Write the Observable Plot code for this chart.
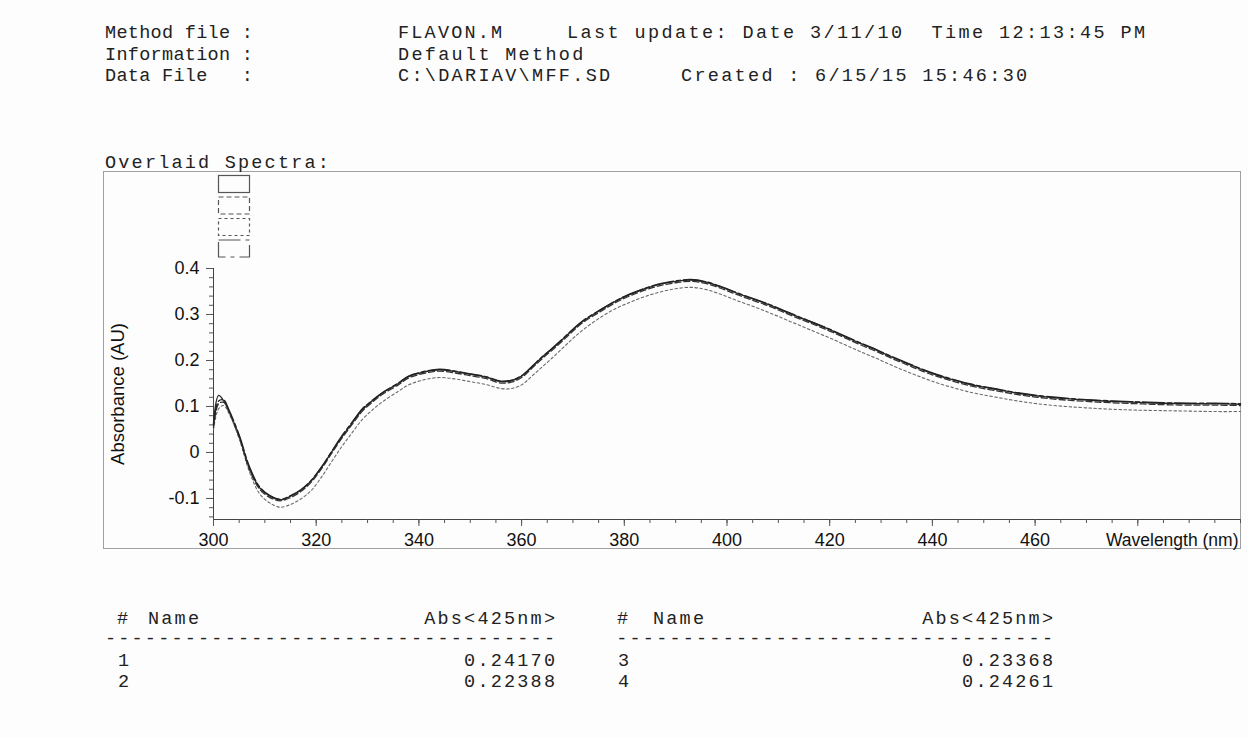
<!DOCTYPE html>
<html><head><meta charset="utf-8">
<script src="https://cdn.jsdelivr.net/npm/d3@7"></script>
<script src="https://cdn.jsdelivr.net/npm/@observablehq/plot@0.6"></script>
<style>
html,body{margin:0;padding:0;}
body{background:#fdfdfd;width:1248px;height:738px;position:relative;overflow:hidden;}
.t{position:absolute;font-family:"Liberation Mono","Courier New",monospace;font-size:18.5px;color:#222;white-space:pre;line-height:18px;}
#frame{position:absolute;left:103px;top:171px;width:1136px;height:376px;border:1.5px solid #a0a0a0;}
#chart{position:absolute;left:104px;top:172px;}
#legend{position:absolute;left:214px;top:173px;}
</style></head><body>
<div id="frame"></div>
<div id="chart"></div>
<svg id="legend" width="40" height="90"></svg>
<script>
// ---- header text ----
const methodFile = "FLAVON.M";
const lastUpdate = "Last update: Date 3/11/10  Time 12:13:45 PM";
const information = "Default Method";
const dataFile = "C:\\DARIAV\\MFF.SD";
const created = "Created : 6/15/15 15:46:30";

// ---- spectra data ----
const wavelength = [300,301,302,303,305,307,309,311,313,315,317,319,321,323,325,327,329,331,333,336,338,341,344,347,350,353,356,358,360,362,364,366,368,370,372,375,378,381,384,387,390,393,396,399,402,405,408,411,414,417,420,423,426,429,432,435,438,441,444,447,450,453,456,459,462,466,470,475,480,485,490,495,500];
const spectrum1 = [0.062,0.124,0.112,0.090,0.035,-0.034,-0.077,-0.095,-0.103,-0.095,-0.082,-0.062,-0.033,0.001,0.034,0.064,0.093,0.113,0.130,0.150,0.165,0.175,0.180,0.176,0.170,0.164,0.154,0.156,0.166,0.186,0.207,0.226,0.246,0.267,0.286,0.307,0.327,0.343,0.356,0.366,0.372,0.375,0.370,0.359,0.346,0.334,0.322,0.308,0.294,0.281,0.267,0.252,0.237,0.223,0.208,0.194,0.180,0.168,0.158,0.149,0.142,0.136,0.130,0.125,0.121,0.117,0.114,0.111,0.109,0.107,0.106,0.106,0.105];
const spectrum2 = [0.050,0.095,0.102,0.085,0.030,-0.042,-0.090,-0.110,-0.119,-0.113,-0.101,-0.083,-0.054,-0.020,0.013,0.043,0.072,0.093,0.111,0.133,0.147,0.158,0.163,0.160,0.154,0.148,0.139,0.139,0.147,0.166,0.186,0.206,0.227,0.248,0.267,0.291,0.311,0.326,0.339,0.349,0.356,0.359,0.354,0.343,0.330,0.318,0.305,0.291,0.277,0.263,0.249,0.234,0.219,0.205,0.190,0.176,0.163,0.151,0.141,0.132,0.125,0.119,0.113,0.108,0.104,0.100,0.097,0.094,0.092,0.091,0.090,0.089,0.089];
const spectrum3 = [0.054,0.106,0.109,0.089,0.033,-0.037,-0.080,-0.098,-0.105,-0.098,-0.085,-0.065,-0.036,-0.002,0.031,0.061,0.090,0.110,0.127,0.147,0.162,0.172,0.177,0.173,0.167,0.161,0.151,0.153,0.163,0.183,0.204,0.223,0.243,0.264,0.283,0.304,0.324,0.340,0.353,0.363,0.369,0.372,0.367,0.356,0.343,0.331,0.319,0.305,0.291,0.278,0.264,0.249,0.234,0.220,0.205,0.191,0.177,0.165,0.155,0.146,0.139,0.133,0.127,0.122,0.118,0.114,0.111,0.108,0.106,0.104,0.103,0.103,0.102];
const spectrum4 = [0.058,0.112,0.114,0.093,0.038,-0.031,-0.075,-0.094,-0.102,-0.094,-0.081,-0.061,-0.032,0.002,0.036,0.066,0.095,0.114,0.131,0.151,0.166,0.176,0.181,0.177,0.171,0.165,0.155,0.157,0.167,0.187,0.208,0.227,0.247,0.268,0.287,0.308,0.328,0.344,0.357,0.367,0.373,0.376,0.371,0.360,0.347,0.335,0.323,0.309,0.295,0.282,0.268,0.253,0.238,0.224,0.209,0.195,0.181,0.169,0.159,0.150,0.143,0.137,0.131,0.126,0.122,0.118,0.115,0.112,0.110,0.108,0.107,0.107,0.106];
const seriesNames = ["1","2","3","4"];

// ---- axis ticks ----
const xMajorTicks = [300,320,340,360,380,400,420,440,460,480];
const xLabelledTicks = [300,320,340,360,380,400,420,440,460];
const yMajorTicks = [-0.1,0,0.1,0.2,0.3,0.4];
const xDomain = [300,500];
const yDomain = [-0.1457,0.4];
const xTitle = "Wavelength (nm)";
const yTitle = "Absorbance (AU)";

// ---- results table ----
const tableIds = [1,2,3,4];
const absAt425 = [0.24170,0.22388,0.23368,0.24261];
const tableHeader = ["#","Name","Abs<425nm>"];

// ---- helpers for text placement ----
function place(text, x, cy, anchor, spacing) {
  const d = document.createElement("div");
  d.className = "t";
  d.textContent = text;
  d.style.top = (cy - 9) + "px";
  d.style.letterSpacing = (spacing == null ? 2.2 : spacing) + "px";
  if (anchor === "end") { d.style.right = (1248 - x - (spacing == null ? 2.2 : spacing)) + "px"; }
  else { d.style.left = x + "px"; }
  document.body.appendChild(d);
}
place("Method file :", 105, 34, null, 0.3); place(methodFile, 398, 34); place(lastUpdate, 567, 34, null, 2.4);
place("Information :", 105, 56, null, 0.3); place(information, 398, 56, null, 2.3);
place("Data File   :", 105, 77, null, 0.3); place(dataFile, 398, 77, null, 2.3); place(created, 681, 77, null, 2.3);
place("Overlaid Spectra:", 105, 164);

// table: two blocks
const blocks = [{ids:[0,1], hashX:117, nameX:148, right:555, dashes:34},
                {ids:[2,3], hashX:617, nameX:653, right:1053, dashes:33}];
blocks.forEach(b => {
  place(tableHeader[0], b.hashX, 620);
  place(tableHeader[1], b.nameX, 620);
  place(tableHeader[2], b.right, 620, "end");
  place("-".repeat(b.dashes), b.right, 640, "end");
  b.ids.forEach((k, j) => {
    const cy = 662 + j * 21;
    place(String(tableIds[k]), b.hashX + 1, cy);
    place(absAt425[k].toFixed(5), b.right, cy, "end");
  });
});

// ---- legend boxes ----
const legendDash = [null, "5,3", "3,3", "22,5,4,5"];
const lg = d3.select("#legend");
legendDash.forEach((dash, i) => {
  const r = lg.append("rect").attr("x", 4.5).attr("y", 2.5 + i * 21.5).attr("width", 31).attr("height", 17)
    .attr("fill", "none").attr("stroke", "#555").attr("stroke-width", 1.2);
  if (dash) r.attr("stroke-dasharray", dash);
});

// ---- chart ----
const spectra = [spectrum1, spectrum2, spectrum3, spectrum4];
const rows = spectra.map((s, k) => wavelength.map((w, i) => ({w, a: s[i], s: seriesNames[k]})));
const lineStyles = [
  {stroke: "#2b2b2b", strokeWidth: 1.4},
  {stroke: "#6a6a6a", strokeWidth: 1.1, strokeDasharray: "2.5,2.5"},
  {stroke: "#333", strokeWidth: 1.3, strokeDasharray: "6,3"},
  {stroke: "#222", strokeWidth: 1.4, strokeDasharray: "22,3,4,3"}
];
const fmtY = d => d === 0 ? "0" : (d < 0 ? "-" + Math.abs(d).toFixed(1) : d.toFixed(1));

const chart = Plot.plot({
  width: 1136, height: 406,
  marginLeft: 109, marginRight: 0, marginTop: 96, marginBottom: 59,
  style: {fontFamily: "'Liberation Sans', Arial, sans-serif", fontSize: "18px", color: "#111", background: "transparent", overflow: "visible"},
  x: {domain: xDomain, label: null},
  y: {domain: yDomain, label: null},
  marks: [
    Plot.frame({anchor: "left", stroke: "#444"}),
    Plot.frame({anchor: "bottom", stroke: "#444"}),
    Plot.axisX({ticks: d3.range(300, 501, 5), tickSize: 4, tickFormat: () => "", stroke: "#555", label: null}),
    Plot.axisX({ticks: xMajorTicks, tickSize: 7, tickPadding: 7, stroke: "#555", label: null, fontSize: 18,
      tickFormat: d => xLabelledTicks.includes(d) ? String(d) : ""}),
    Plot.axisY({ticks: d3.range(-14, 41, 2).map(v => v / 100), tickSize: 4, tickFormat: () => "", stroke: "#555", label: null}),
    Plot.axisY({ticks: yMajorTicks, tickSize: 7, tickPadding: 7, tickFormat: fmtY, stroke: "#555", label: null, fontSize: 18}),
    Plot.text([xTitle], {frameAnchor: "bottom-right", dy: 21, dx: -2, textAnchor: "end", lineAnchor: "middle", fontSize: 17.5}),
    Plot.text([yTitle], {frameAnchor: "left", dx: -95, rotate: -90, textAnchor: "middle", lineAnchor: "middle", fontSize: 18.5}),
    ...rows.map((r, k) => Plot.line(r, {x: "w", y: "a", curve: "catmull-rom", ...lineStyles[k]}))
  ]
});
document.getElementById("chart").appendChild(chart);
</script>
</body></html>
